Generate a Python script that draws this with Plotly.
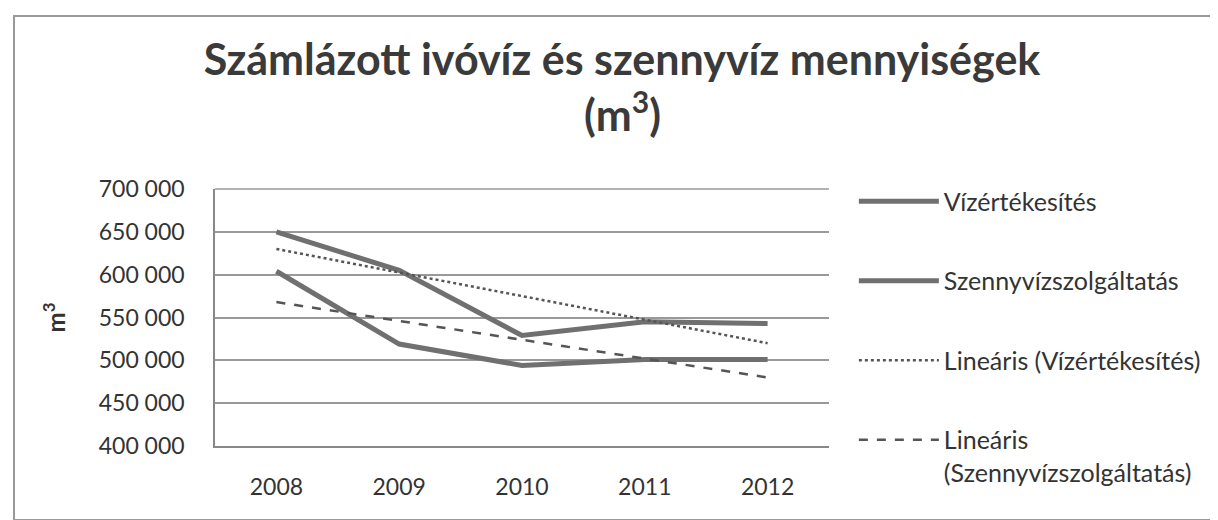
import plotly.graph_objects as go

years = ["2008", "2009", "2010", "2011", "2012"]
viz = [650000, 605000, 529000, 545000, 543000]
szenny = [604000, 519000, 494000, 501000, 501000]
trend_years = ["2008", "2012"]
viz_trend = [630000, 520000]
szenny_trend = [568000, 480000]
y_ticks = [400000, 450000, 500000, 550000, 600000, 650000, 700000]

FONT = "Lato"
fig = go.Figure()
fig.add_trace(go.Scatter(x=years, y=viz, mode="lines", name="Vízértékesítés",
                         line=dict(color="#707070", width=5), legendgroup="a"))
fig.add_trace(go.Scatter(x=years, y=szenny, mode="lines", name="Szennyvízszolgáltatás",
                         line=dict(color="#707070", width=5), legendgroup="b"))
fig.add_trace(go.Scatter(x=trend_years, y=viz_trend, mode="lines", name="Lineáris (Vízértékesítés)",
                         line=dict(color="#555555", width=2.5, dash="dot"), legendgroup="c"))
fig.add_trace(go.Scatter(x=trend_years, y=szenny_trend, mode="lines",
                         name="Lineáris<br>(Szennyvízszolgáltatás)",
                         line=dict(color="#555555", width=2.5, dash="dash"), legendgroup="d"))

fig.update_layout(
    width=1218, height=520,
    margin=dict(l=207, r=397, t=181, b=82),
    paper_bgcolor="white", plot_bgcolor="white",
    separators=", ",
    font=dict(family=FONT, color="#333333", size=23),
    title=dict(text="<b>Számlázott ivóvíz és szennyvíz mennyiségek</b>",
               x=614 / 1218, xanchor="center", y=1 - 52 / 520, yanchor="middle",
               font=dict(family=FONT, size=43, color="#3a3a3a")),
    xaxis=dict(type="category", range=[-0.5, 4.5], showgrid=False, showline=True,
               linecolor="#888888", linewidth=1.5, ticks="", tickfont=dict(size=23),
               ticklabelstandoff=20),
    yaxis=dict(range=[400000, 700000], tickvals=y_ticks, tickformat=",d",
               showgrid=True, gridcolor="#999999", gridwidth=1.5,
               showline=True, linecolor="#888888", linewidth=1.5,
               ticks="", tickfont=dict(size=23), ticklabelstandoff=24,
               title=dict(text="<b>m<sup>3</sup></b>", font=dict(size=24), standoff=26),
               zeroline=False),
    showlegend=True,
    legend=dict(x=1.0405, xanchor="left", y=1.041, yanchor="top",
                traceorder="grouped", tracegroupgap=44, valign="top",
                itemwidth=80, maxheight=420, font=dict(size=25, family=FONT),
                bgcolor="rgba(0,0,0,0)"),
    annotations=[dict(text="<b>(m<sup>3</sup>)</b>", xref="paper", yref="paper",
                      x=(614 - 207) / 614, y=(438 - 104) / 257,
                      xanchor="center", yanchor="middle", showarrow=False,
                      font=dict(family=FONT, size=43, color="#3a3a3a"))],
)
# outer frame
fig.add_shape(type="rect", xref="paper", yref="paper",
              x0=(6 - 207) / 614, x1=(1213 - 207) / 614,
              y0=(438 - 512) / 257, y1=(438 - 8) / 257,
              line=dict(color="#999999", width=2))
fig.add_shape(type="line", xref="paper", yref="paper", x0=0, x1=1, y0=1, y1=1,
              line=dict(color="#999999", width=1.5))

fig.write_html("out.html")
